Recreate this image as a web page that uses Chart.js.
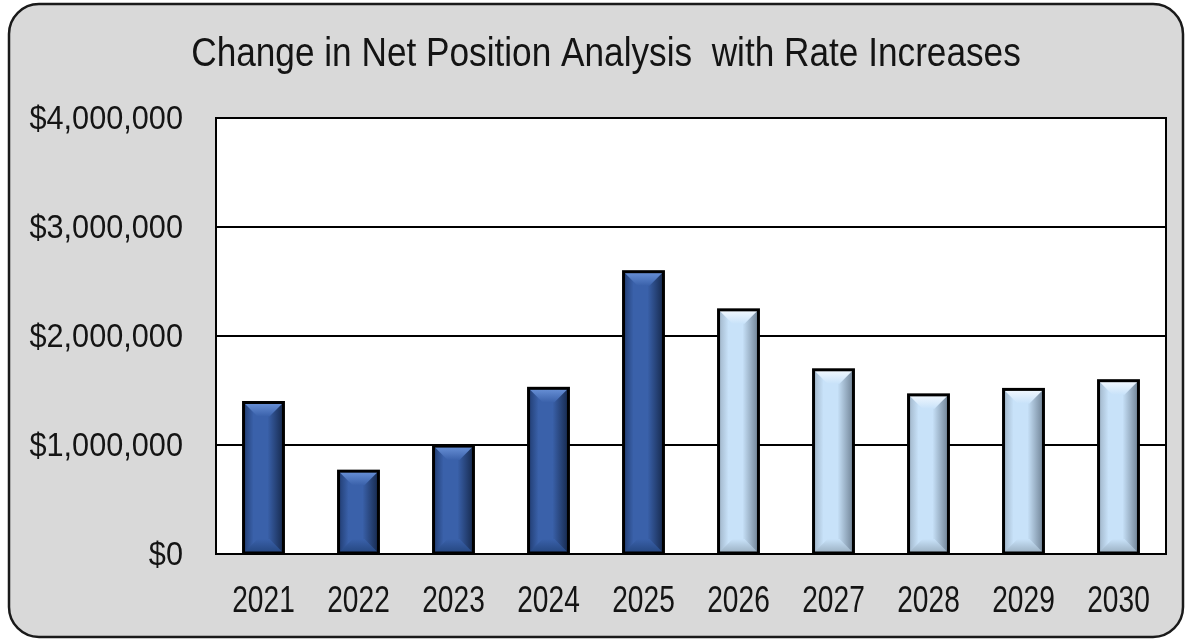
<!DOCTYPE html>
<html>
<head>
<meta charset="utf-8">
<script src="https://cdn.jsdelivr.net/npm/chart.js@4.4.1/dist/chart.umd.min.js"></script>
<style>
  html, body { margin: 0; padding: 0; background: #ffffff; }
  #wrap { width: 1188px; height: 641px; position: relative; }
</style>
</head>
<body>
<div id="wrap"><canvas id="c" width="1188" height="641"></canvas></div>
<script>
  "use strict";

  // chart data
  const chartTitle = "Change in Net Position Analysis  with Rate Increases";
  const years = ["2021", "2022", "2023", "2024", "2025", "2026", "2027", "2028", "2029", "2030"];
  const netChange = [1390000, 760000, 990000, 1520000, 2590000, 2240000, 1690000, 1460000, 1510000, 1590000];
  const projected = [false, false, false, false, false, true, true, true, true, true];
  const yTicks = [0, 1000000, 2000000, 3000000, 4000000];

  const FONT = "'Liberation Sans', Arial, sans-serif";
  const TEXT = "#141414";

  const SHADES = {
    dark:  { edgeL: "#213d72", edgeR: "#16294d", mid: "#3a61aa", top: "#6a92d8", bottom: "#24467f" },
    light: { edgeL: "#9fb4c8", edgeR: "#6f8295", mid: "#c8e2f9", top: "#f3f9ff", bottom: "#9aafc1" },
  };

  function fmtMoney(v) {
    return "$" + Math.round(v).toLocaleString("en-US");
  }

  // text drawn with a horizontal squeeze, to mimic the narrow face of the original
  function narrowText(ctx, str, x, y, size, sx, align) {
    ctx.save();
    ctx.translate(x, y);
    ctx.scale(sx, 1);
    ctx.font = size + "px " + FONT;
    ctx.fillStyle = TEXT;
    ctx.textAlign = align;
    ctx.textBaseline = "alphabetic";
    ctx.fillText(str, 0, 0);
    ctx.restore();
  }

  // grey rounded panel behind the chart + white plot area
  const panelPlugin = {
    id: "panel",
    beforeDraw(chart) {
      const ctx = chart.ctx;
      const a = chart.chartArea;
      ctx.save();
      ctx.beginPath();
      ctx.roundRect(9, 4, 1174, 633, 30);
      ctx.fillStyle = "#d9d9d9";
      ctx.fill();
      ctx.lineWidth = 2.5;
      ctx.strokeStyle = "#1a1a1a";
      ctx.stroke();
      ctx.fillStyle = "#ffffff";
      ctx.fillRect(a.left, a.top, a.right - a.left, a.bottom - a.top);
      ctx.restore();
    },
  };

  // bevelled bar look, painted over the library's bars at their own positions
  const bevelPlugin = {
    id: "bevel",
    afterDatasetsDraw(chart) {
      const ctx = chart.ctx;
      const meta = chart.getDatasetMeta(0);
      meta.data.forEach((bar, i) => {
        const p = bar.getProps(["x", "y", "base", "width"], true);
        const s = projected[i] ? SHADES.light : SHADES.dark;
        const l = p.x - p.width / 2, r = p.x + p.width / 2;
        const t = Math.min(p.y, p.base), b = Math.max(p.y, p.base);
        const bv = Math.min(14, (b - t) / 2);
        ctx.save();
        ctx.beginPath();
        ctx.rect(l, t, r - l, b - t);
        ctx.clip();
        const g = ctx.createLinearGradient(l, 0, r, 0);
        g.addColorStop(0, s.edgeL);
        g.addColorStop(0.25, s.mid);
        g.addColorStop(0.6, s.mid);
        g.addColorStop(1, s.edgeR);
        ctx.fillStyle = g;
        ctx.fillRect(l, t, r - l, b - t);
        ctx.beginPath();
        ctx.moveTo(l, t); ctx.lineTo(r, t); ctx.lineTo(r - bv, t + bv); ctx.lineTo(l + bv, t + bv);
        ctx.closePath();
        const gt = ctx.createLinearGradient(0, t, 0, t + bv);
        gt.addColorStop(0, s.top);
        gt.addColorStop(1, s.mid);
        ctx.fillStyle = gt;
        ctx.fill();
        ctx.beginPath();
        ctx.moveTo(l, b); ctx.lineTo(r, b); ctx.lineTo(r - bv, b - bv); ctx.lineTo(l + bv, b - bv);
        ctx.closePath();
        const gb = ctx.createLinearGradient(0, b - bv, 0, b);
        gb.addColorStop(0, s.mid);
        gb.addColorStop(1, s.bottom);
        ctx.fillStyle = gb;
        ctx.fill();
        ctx.restore();
        ctx.save();
        ctx.lineWidth = 3;
        ctx.strokeStyle = "#000000";
        ctx.strokeRect(l, t, r - l, b - t);
        ctx.restore();
      });
    },
  };

  // plot frame, title and tick labels (positions come from the chart's scales)
  const labelsPlugin = {
    id: "labels",
    afterDraw(chart) {
      const a = chart.chartArea, ctx = chart.ctx;
      const xs = chart.scales.x, ys = chart.scales.y;
      ctx.save();
      ctx.lineWidth = 2;
      ctx.strokeStyle = "#000000";
      ctx.strokeRect(a.left, a.top, a.right - a.left, a.bottom - a.top);
      ctx.restore();

      narrowText(ctx, chartTitle, 606, 66, 40, 0.88, "center");
      yTicks.forEach(v => {
        narrowText(ctx, fmtMoney(v), a.left - 33, ys.getPixelForValue(v) + 11, 33, 0.93, "right");
      });
      years.forEach((y, i) => {
        narrowText(ctx, y, xs.getPixelForTick(i), a.bottom + 58, 37, 0.76, "center");
      });
    },
  };

  new Chart(document.getElementById("c"), {
    type: "bar",
    data: {
      labels: years,
      datasets: [{
        data: netChange,
        backgroundColor: years.map((y, i) => projected[i] ? SHADES.light.mid : SHADES.dark.mid),
        borderColor: "#000000",
        borderWidth: 3,
        borderSkipped: false,
        barPercentage: 0.42,
        categoryPercentage: 1.0,
      }],
    },
    options: {
      responsive: false,
      animation: false,
      layout: { padding: { left: 10, right: 22, top: 118, bottom: 0 } },
      plugins: {
        legend: { display: false },
        tooltip: { enabled: false },
        title: { display: false, text: chartTitle },
      },
      scales: {
        x: {
          grid: { display: false, drawTicks: false },
          border: { display: true, color: "#000000", width: 2 },
          ticks: { display: false },
          afterFit(scale) { scale.height = 87; },
        },
        y: {
          min: 0,
          max: 4000000,
          afterBuildTicks(scale) { scale.ticks = yTicks.map(v => ({ value: v })); },
          grid: { color: "#000000", lineWidth: 2, drawTicks: false },
          border: { display: true, color: "#000000", width: 2 },
          ticks: { display: false, callback: v => fmtMoney(v) },
          afterFit(scale) { scale.width = 206; },
        },
      },
    },
    plugins: [panelPlugin, bevelPlugin, labelsPlugin],
  });
</script>
</body>
</html>
